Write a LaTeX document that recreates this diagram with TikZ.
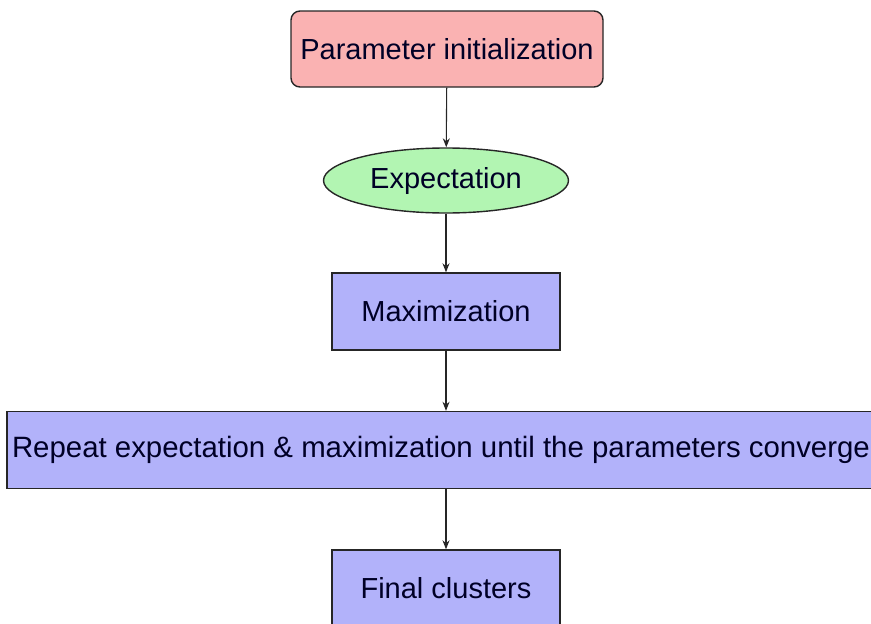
\documentclass[tikz,border=0pt]{standalone}
\usepackage{fontspec}
\setmainfont{Liberation Sans}
\usetikzlibrary{shapes.geometric, arrows.meta}

\definecolor{initred}{RGB}{250,178,178}
\definecolor{expgreen}{RGB}{178,245,178}
\definecolor{stepblue}{RGB}{178,178,250}

\tikzset{
    box/.style={draw=black!85, line width=1.4pt, fill=stepblue, minimum height=77pt,
        inner sep=2pt, font=\fontsize{29}{34}\selectfont, text=black!85!blue},
    flow/.style={draw=black!85, line width=1.1pt, -{Stealth[length=9pt,width=7pt]}}
}

\begin{document}
\begin{tikzpicture}[x=1pt, y=-1pt]
    % Page frame
    \useasboundingbox (0,0) rectangle (871,624);
    \clip (0,0) rectangle (871,624);

    % 1. Steps
    \node[box, fill=initred, rounded corners=9pt, minimum width=312pt, minimum height=76pt]
        (init) at (447,49) {Parameter initialization};
    \node[box, ellipse, fill=expgreen, minimum width=245pt, minimum height=65pt, inner sep=0pt]
        (expect) at (446,180.5) {Expectation};
    \node[box, minimum width=228pt] (maxim) at (446,311.5) {Maximization};
    \node[box, minimum width=868pt, font=\fontsize{29.4}{34}\selectfont]
        (repeat) at (441,450) {Repeat expectation \& maximization until the parameters converge};
    \node[box, minimum width=228pt] (final) at (446,588.5) {Final clusters};

    % 2. Connectors
    \draw[flow] (init) -- (expect);
    \draw[flow] (expect) -- (maxim);
    \draw[flow] (maxim) -- (repeat.north -| maxim);
    \draw[flow] (repeat.south -| final) -- (final);
\end{tikzpicture}
\end{document}
